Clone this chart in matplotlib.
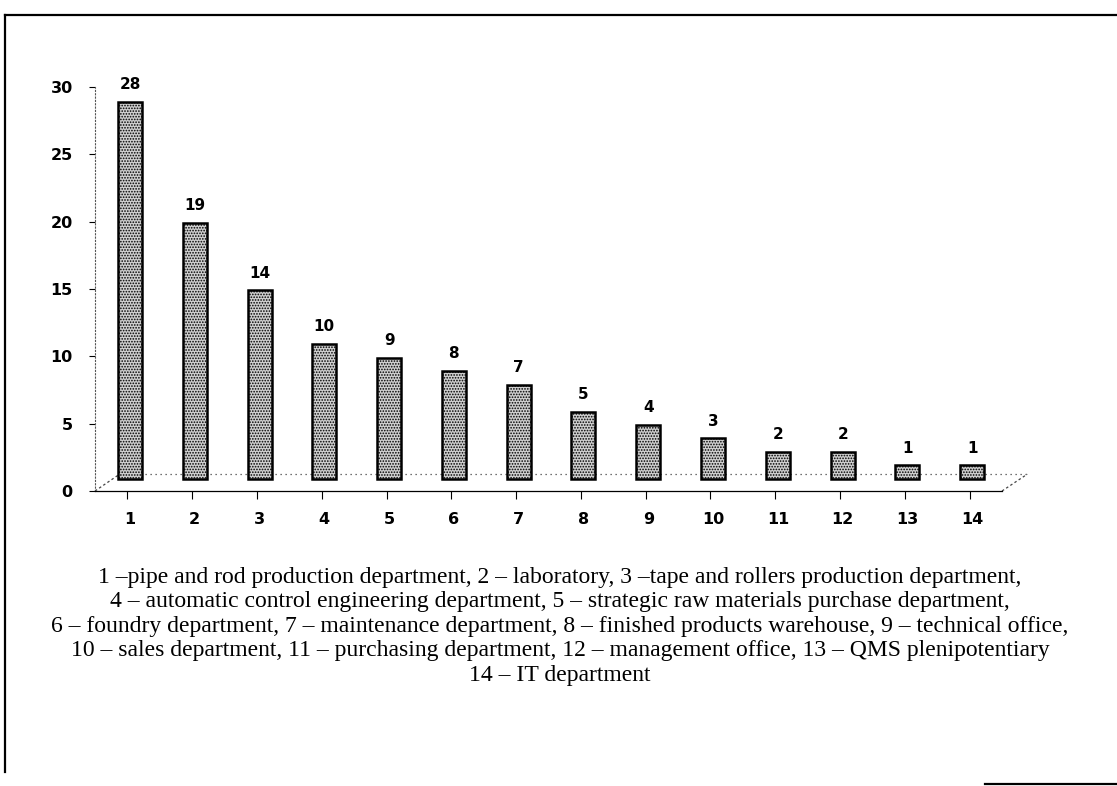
import numpy as np
import matplotlib
matplotlib.use('Agg')
import matplotlib.pyplot as plt
from matplotlib.lines import Line2D

# department number and number of respondents
depts = np.arange(1, 15)
counts = [28, 19, 14, 10, 9, 8, 7, 5, 4, 3, 2, 2, 1, 1]
yticks = [0, 5, 10, 15, 20, 25, 30]

caption = [
    "1 \u2013pipe and rod production department, 2 \u2013 laboratory, 3 \u2013tape and rollers production department,",
    "4 \u2013 automatic control engineering department, 5 \u2013 strategic raw materials purchase department,",
    "6 \u2013 foundry department, 7 \u2013 maintenance department, 8 \u2013 finished products warehouse, 9 \u2013 technical office,",
    "10 \u2013 sales department, 11 \u2013 purchasing department, 12 \u2013 management office, 13 \u2013 QMS plenipotentiary",
    "14 \u2013 IT department",
]

plt.rcParams['hatch.color'] = '#3a3a3a'
plt.rcParams['hatch.linewidth'] = 0.8

W, H = 1117, 786
fig = plt.figure(figsize=(W/100, H/100), dpi=100)

# axes placed in pixel terms
x0, x1 = 95, 1002
y0, y1 = 491, 87
ax = fig.add_axes([x0/W, 1 - y0/H, (x1-x0)/W, (y0-y1)/H])

depth = 0.9   # fake 3d floor offset, like the excel cylinders
ax.bar(depts, counts, width=0.37, bottom=depth, color='#cfcfcf',
       edgecolor='black', linewidth=1.8, hatch='......', zorder=3)

for d, c in zip(depts, counts):
    ax.annotate(str(c), (d, c + depth), textcoords="offset points",
                xytext=(0, 7), ha='center', va='bottom',
                fontsize=11, fontweight='bold')

# floor dotted line + perspective corners
ax.plot([0.84, 14.85], [1.25, 1.25], ls=(0, (1, 3)), color='#444444', lw=0.9,
        clip_on=False, zorder=2)
ax.plot([0.46, 0.84], [0, 1.25], ls=(0, (2, 2)), color='#444444', lw=0.9, clip_on=False)
ax.plot([14.46, 14.85], [0, 1.25], ls=(0, (2, 2)), color='#444444', lw=0.9, clip_on=False)

ax.set_xlim(0.46, 14.46)
ax.set_ylim(0, 30)
ax.set_yticks(yticks)
ax.set_xticks(depts)
ax.set_xticks(np.arange(0.96, 14.5, 1.0), minor=True)
ax.tick_params(axis='x', which='major', length=0, pad=15)
ax.tick_params(axis='x', which='minor', length=6, width=0.8, direction='out')
ax.tick_params(axis='y', length=4, width=0.8, pad=12)
for lab in ax.get_xticklabels() + ax.get_yticklabels():
    lab.set_fontweight('bold')
    lab.set_fontsize(11.5)

for s in ['top', 'right']:
    ax.spines[s].set_visible(False)
ax.spines['left'].set_linestyle((0, (1, 2)))
ax.spines['left'].set_color('#555555')
ax.spines['left'].set_linewidth(0.8)
ax.spines['bottom'].set_linewidth(0.9)

# caption under the chart
for i, line in enumerate(caption):
    fig.text(560/W, 1 - (577 + i*24.6)/H, line, ha='center', va='center',
             family='Liberation Serif', fontsize=17)

# frame around the figure
fig.add_artist(Line2D([5/W, 1], [1 - 15/H, 1 - 15/H], color='black', lw=1.6))
fig.add_artist(Line2D([5/W, 5/W], [1 - 15/H, 1 - 772/H], color='black', lw=1.6))
fig.add_artist(Line2D([985/W, 1], [1 - 784/H, 1 - 784/H], color='black', lw=1.6))

plt.savefig('out.png', dpi=100)
